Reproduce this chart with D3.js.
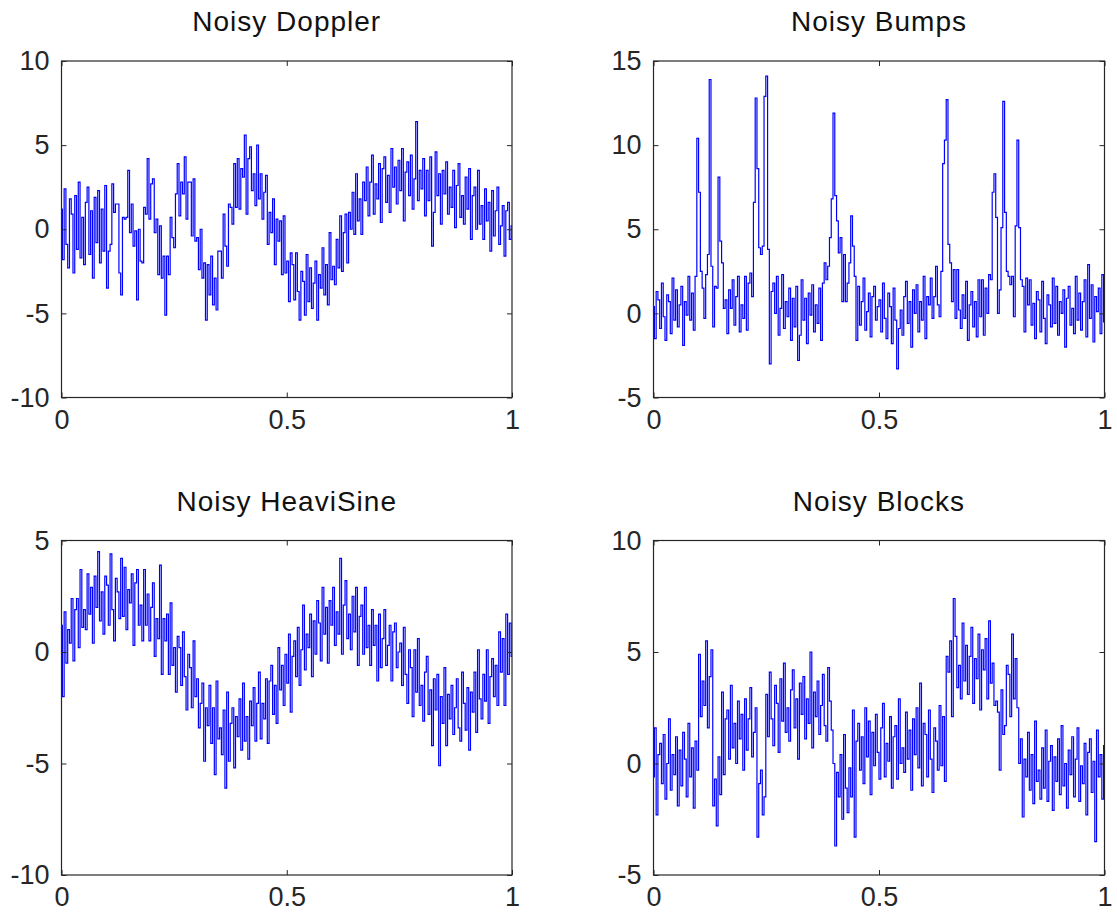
<!DOCTYPE html>
<html>
<head>
<meta charset="utf-8">
<script src="https://cdn.jsdelivr.net/npm/d3@7"></script>
<style>
  html, body { margin: 0; padding: 0; background: #ffffff; }
  svg { display: block; }
</style>
</head>
<body>
<svg id="chart" width="1117" height="917"></svg>
<script>
// Panel titles and shared x ticks
const titles = ["Noisy Doppler", "Noisy Bumps", "Noisy HeaviSine", "Noisy Blocks"];
const xTicks = [0, 0.5, 1];

// Y tick values for each panel
const dopplerTicks = [-10, -5, 0, 5, 10];
const bumpsTicks = [-5, 0, 5, 10, 15];
const heavisineTicks = [-10, -5, 0, 5];
const blocksTicks = [-5, 0, 5, 10];

// Sampled noisy signals (256 equally spaced samples on [0, 1])
const doppler = [
  1.2, -1.8, 2.4, -0.9, -2.3, 1.8, 0.9, -2.6, 2.0, -1.2, 2.8, -1.7, 0.7, -2.1, 1.6, 2.5,
  -1.5, 1.1, -2.9, 1.9, -0.8, 2.3, -2.0, 1.2, -1.3, 2.6, -3.5, -1.3, -0.9, 2.7, 1.0, 1.5,
  1.5, -2.6, -3.9, 0.7, 0.6, 0.7, 3.5, -0.2, 1.5, -1.0, -0.1, -4.2, 0.0, -1.9, -2.0, 1.3,
  0.9, 4.2, 0.6, 2.7, 3.0, -0.2, 0.6, -2.7, 0.2, -2.9, -1.6, -5.1, -1.6, -2.7, 0.7, -0.5,
  -1.1, 2.1, 3.9, 0.8, 2.8, 2.1, 4.3, 0.6, 2.8, 2.8, -0.4, 3.0, -0.7, -0.5, -2.4, 0.0,
  -2.9, -2.0, -5.4, -2.1, -3.9, -1.6, -4.5, -2.9, -4.8, -1.3, -1.3, -2.9, 0.9, -1.0, -2.2, 1.5,
  1.3, 0.3, 3.9, 1.3, 4.2, 1.2, 3.6, 3.1, 5.6, 0.9, 4.2, 4.9, 2.3, 3.3, 1.4, 5.0,
  1.8, 3.3, 0.6, 2.2, 3.2, -0.9, 1.0, -0.2, 1.8, -2.1, 0.6, -0.7, 0.5, -2.7, 0.8, -2.6,
  -1.9, -4.3, -1.4, -2.1, -4.2, -1.4, -3.7, -5.4, -2.5, -3.1, -5.1, -1.5, -4.3, -2.3, -4.7, -3.2,
  -1.9, -5.4, -2.7, -3.5, -1.1, -3.9, -2.1, -4.5, -0.2, -3.0, -2.2, -3.3, -0.6, -2.3, 0.8, -2.5,
  -0.2, 0.9, -2.0, 1.0, 0.0, 2.2, -0.3, 3.3, 0.5, 1.8, -0.3, 2.8, 1.7, 3.7, 0.8, 2.8,
  4.4, 0.9, 2.7, 1.8, 3.9, 0.4, 3.6, 4.3, 1.6, 3.2, 1.0, 4.8, 2.5, 3.7, 1.5, 4.1,
  2.3, 4.8, 0.5, 3.4, 4.0, 2.0, 4.4, 1.2, 3.0, 6.4, 1.7, 3.5, 2.4, 4.2, 0.8, 3.5,
  1.7, 4.3, -1.0, 1.0, 4.6, 2.0, 3.3, 0.3, 3.5, 2.1, 4.0, 0.9, 2.5, 1.3, 3.5, 0.1,
  2.6, 3.9, 0.7, 2.0, 0.3, 3.1, 1.2, 3.6, -0.6, 2.0, 2.5, 0.0, 3.5, 0.3, 1.4, -0.6,
  2.4, 0.5, 1.6, -1.3, 2.3, -0.4, 1.1, 2.5, -0.9, 0.2, 1.4, -1.6, 1.1, 1.6, -0.6, 0.2
];

const bumps = [
  0.4, -1.5, 1.3, 0.8, -0.9, 1.8, -0.2, -1.6, 1.1, 0.7, -1.2, 2.1, -0.4, 1.4, -0.8, 0.5,
  1.6, -1.9, 0.7, -0.1, 2.2, -0.4, 1.2, -1.0, 2.2, 10.4, 7.2, 2.5, 1.5, -0.3, 2.3, 3.5,
  13.9, 2.8, -0.8, 1.6, 1.5, 8.1, 4.3, 3.0, 0.3, 0.8, -1.2, 1.4, 0.3, 2.0, -0.7, 1.0,
  2.2, -1.1, 0.5, -0.3, 2.2, -1.0, 1.8, 2.4, 1.0, 6.6, 12.8, 8.6, 3.9, 3.5, 4.0, 12.9,
  14.1, 3.8, -3.0, 1.3, 1.8, 0.0, 2.2, -1.3, 0.3, 2.3, -0.9, 0.7, -0.2, 1.5, -1.6, 0.9,
  -0.8, 1.6, -2.8, -1.3, 2.0, -0.4, 0.9, -1.8, 1.2, -0.1, 1.7, -1.1, 0.5, -0.6, 1.5, -1.6,
  1.8, 3.0, 2.0, 2.8, 4.5, 6.8, 11.9, 7.0, 5.5, 3.6, 4.5, 0.7, 3.5, 0.7, 1.8, 3.0,
  5.8, 4.0, 2.2, -1.6, 1.6, -0.7, 0.7, 2.1, -1.0, 0.1, 1.2, -1.4, 1.0, 1.6, -0.4, 0.4,
  0.8, -1.1, 1.8, -0.3, -1.5, 1.2, 0.4, -1.8, 1.5, -0.4, -3.3, -0.9, 0.2, -1.3, 1.0, 1.9,
  -0.6, 0.7, -2.0, 1.4, 0.0, 1.7, -1.1, 0.7, -0.4, 2.2, -1.5, 1.0, 0.5, 2.1, -0.3, 1.0,
  2.8, 0.5, -0.2, 2.5, 8.9, 10.3, 12.7, 4.1, 3.0, 0.7, 2.6, -0.3, 2.6, 0.2, -0.9, 1.1,
  -0.3, 1.9, -1.6, 0.5, 1.3, -0.8, 0.7, -1.4, 2.0, -0.2, 2.0, -1.3, 1.5, 0.0, 2.3, 2.0,
  7.2, 8.3, 5.7, 0.0, 1.4, 5.1, 12.6, 6.0, 2.5, 2.2, 1.7, 2.2, -0.2, 5.2, 10.3, 5.1,
  2.0, 1.6, -1.1, 2.1, 0.5, 2.0, -0.7, 0.6, -1.5, 1.3, 0.8, -1.1, 1.9, -0.3, -1.8, 1.1,
  0.5, -0.8, 2.1, -0.6, 1.6, -1.3, 0.7, 0.0, 1.4, -2.0, 0.9, 1.6, -0.7, 0.3, -1.2, 2.2,
  -0.4, 1.2, -1.0, 0.7, 2.0, -1.4, 2.9, -0.3, 1.7, -1.7, 1.0, 0.1, 1.5, -1.2, 2.3, -0.5
];

const heavisine = [
  1.2, -2.0, 1.8, -0.5, 1.0, 0.4, 2.4, -0.4, 1.9, 2.4, 0.2, 3.7, 1.1, 1.9, 1.0, 3.5,
  1.7, 2.9, 0.4, 3.4, 2.0, 4.5, 1.4, 2.7, 0.8, 3.4, 3.0, 1.2, 4.4, 1.9, 0.5, 3.3,
  2.7, 1.5, 4.2, 1.6, 3.8, 1.0, 2.8, 2.2, 3.5, 0.3, 3.1, 3.7, 1.2, 2.1, 0.5, 3.7,
  1.2, 2.6, 0.5, 2.0, 3.1, -0.2, 1.5, 0.6, 3.9, -1.0, 1.5, 0.5, 1.7, -1.0, 2.2, -0.6,
  0.2, -1.8, 0.7, 0.2, -1.5, 0.9, -1.1, -2.6, -0.1, -0.7, -2.5, 0.5, -2.0, -1.2, -3.4, -2.3,
  -1.4, -4.9, -2.5, -3.3, -1.5, -4.1, -2.5, -5.5, -1.3, -3.9, -3.4, -4.6, -2.6, -6.1, -1.8, -4.9,
  -3.2, -2.5, -5.2, -2.9, -3.8, -2.1, -4.4, -1.4, -4.0, -2.9, -4.8, -2.2, -3.3, -1.6, -4.0, -2.3,
  -0.9, -3.9, -2.3, -3.0, -1.2, -4.1, -1.3, -0.6, -2.8, -1.5, -3.2, 0.2, -1.7, -0.6, -2.4, -0.1,
  -1.4, 0.8, -2.7, -0.2, 0.5, -1.1, 1.1, -1.5, 0.1, 2.1, -0.8, 0.8, 0.2, 1.7, -1.1, 1.4,
  -0.1, 2.3, 1.3, -0.4, 2.9, 0.8, 2.0, -0.5, 2.3, 1.2, 2.9, 0.3, 1.8, 0.8, 4.2, -0.1,
  2.1, 3.2, 0.6, 1.7, 0.1, 2.5, 0.9, 2.9, -0.6, 1.6, 2.1, -0.1, 2.9, 0.2, 1.2, -0.6,
  1.9, 0.3, 1.2, -1.3, 1.7, -0.7, 0.6, 1.9, -0.6, 0.3, 1.2, -1.3, 0.9, 1.3, -0.7, 0.0,
  0.4, -1.5, 1.1, -1.0, -2.3, 0.1, -0.7, -2.9, 0.1, -1.8, 0.6, -2.4, -1.5, -3.1, -0.9, -0.2,
  -2.8, -1.7, -4.2, -1.2, -2.6, -1.0, -5.1, -2.0, -3.2, -0.7, -4.2, -1.9, -3.0, -1.5, -3.7, -2.5,
  -1.2, -3.4, -4.0, -0.9, -2.3, -3.5, -1.6, -4.4, -1.8, -2.7, -0.9, -3.6, 0.1, -2.1, -3.0, -1.0,
  -2.2, 0.1, -3.2, -1.1, -0.3, -2.0, -0.6, -2.4, 0.9, -0.9, 0.6, -2.4, 1.7, -1.0, 1.3, -0.2
];

const blocks = [
  -0.6, 1.6, -2.3, 0.4, 0.9, -0.9, 1.3, -1.6, 0.0, 2.0, -1.2, 0.4, -0.5, 1.2, -1.9, 0.6,
  -1.0, 1.4, 0.2, -1.5, 1.8, -0.6, 0.7, -2.0, 1.0, -0.3, 4.9, 2.1, 3.7, 2.6, 5.5, 1.6,
  3.9, 5.1, -1.9, -0.7, -2.8, 0.3, -1.4, 3.2, -0.5, 2.0, 2.4, 0.2, 3.5, 0.7, 1.8, 0.0,
  2.8, 1.1, 2.2, -0.3, 2.9, 0.6, 2.0, 3.4, 0.3, 1.4, 2.5, -3.3, -0.9, -0.3, -2.3, -1.5,
  3.1, 1.2, 4.1, 2.0, 0.8, 3.5, 2.7, 0.5, 3.8, 1.9, 4.5, 1.4, 2.5, 1.0, 3.3, 4.2,
  1.6, 2.9, 0.2, 3.6, 2.2, 3.9, 1.1, 2.9, 1.8, 5.0, 0.7, 3.2, 2.1, 3.7, 1.3, 2.6,
  4.0, 1.7, 1.0, 4.3, 2.8, 1.5, 0.0, -3.7, -0.4, -1.5, 0.4, -2.5, 1.3, -1.1, -2.2, -0.2,
  -1.5, 2.4, -3.3, 1.0, 1.8, -0.3, 1.2, -0.9, 2.5, 0.3, 1.9, -1.4, 1.4, -0.1, 2.2, 0.5,
  -0.7, 1.6, 2.7, -0.6, 0.9, 0.1, 2.1, -1.1, 1.2, 1.7, -0.7, 2.9, 0.0, 0.7, -0.4, 2.3,
  0.2, 1.5, -1.2, 2.0, 0.4, 2.5, -0.2, 3.6, -1.0, 1.8, 1.3, -0.6, 2.4, 0.2, -1.3, 1.6,
  1.0, -0.3, 2.6, -0.1, 2.1, -0.8, 4.8, 4.1, 5.5, 2.1, 7.4, 5.7, 3.4, 4.4, 2.9, 6.3,
  3.7, 5.3, 3.1, 4.8, 6.1, 2.7, 4.7, 3.8, 5.8, 2.4, 5.1, 4.2, 5.6, 2.9, 6.4, 3.6,
  4.5, 2.6, 2.8, 2.3, -0.3, 3.3, 1.3, 1.7, 4.4, 4.0, 2.1, 5.8, 2.9, 4.7, 2.5, 0.0,
  1.1, -2.4, 0.2, -0.6, 1.4, -1.2, 0.4, -1.8, 1.9, -0.8, -0.3, -1.6, 0.7, -1.1, 1.5, -1.7,
  0.1, 0.8, -2.1, 0.3, -0.8, 1.1, -1.4, 1.7, -1.0, 0.0, -2.0, 0.6, -0.5, 1.2, -1.5, 0.2,
  1.6, -1.7, -0.1, -0.9, 0.9, -2.3, 0.5, 1.1, -1.3, 0.1, -3.5, 1.5, -0.6, 0.4, -1.6, 0.8
];

// Layout of the 2x2 grid of axes: [left, top, right, bottom] in pixels
const panels = [
  { title: titles[0], values: doppler,   yDomain: [-10, 10], yTicks: dopplerTicks,   box: [61.5, 61, 512, 397.5] },
  { title: titles[1], values: bumps,     yDomain: [-5, 15],  yTicks: bumpsTicks,     box: [653.5, 61, 1104.5, 397.5] },
  { title: titles[2], values: heavisine, yDomain: [-10, 5],  yTicks: heavisineTicks, box: [61.5, 540.5, 512, 875] },
  { title: titles[3], values: blocks,    yDomain: [-5, 10],  yTicks: blocksTicks,    box: [653.5, 540.5, 1104.5, 875] }
];

const fontFamily = "'Liberation Sans', Arial, Helvetica, sans-serif";
const axisColor = "#262626";
const fmt = d => String(d);
const svg = d3.select("#chart");

panels.forEach((p, k) => {
  const [x0, y0, x1, y1] = p.box;
  const x = d3.scaleLinear().domain([0, 1]).range([x0, x1]);
  const y = d3.scaleLinear().domain(p.yDomain).range([y1, y0]);
  const g = svg.append("g");

  g.append("clipPath").attr("id", "clip" + k)
    .append("rect")
    .attr("x", x0).attr("y", y0)
    .attr("width", x1 - x0).attr("height", y1 - y0);

  const n = p.values.length;
  // stair-step trace: each sample is held until the next one
  const line = d3.line()
    .x((d, i) => x(i / (n - 1)))
    .y(d => y(d))
    .curve(d3.curveStep);

  g.append("path")
    .datum(p.values)
    .attr("d", line)
    .attr("fill", "none")
    .attr("stroke", "#0000ff")
    .attr("stroke-width", 1.2)
    .attr("clip-path", `url(#clip${k})`);

  const styleAxis = sel => {
    sel.attr("font-family", fontFamily)
       .attr("font-size", 27)
       .style("color", axisColor);
    sel.select(".domain").remove();
    sel.selectAll(".tick line").attr("stroke-width", 1);
  };

  g.append("g")
    .attr("transform", `translate(0,${y1})`)
    .call(d3.axisBottom(x).tickValues(xTicks).tickSizeInner(-5).tickSizeOuter(0).tickPadding(12).tickFormat(fmt))
    .call(styleAxis);

  g.append("g")
    .attr("transform", `translate(0,${y0})`)
    .call(d3.axisTop(x).tickValues(xTicks).tickSizeInner(-5).tickSizeOuter(0).tickFormat(""))
    .call(styleAxis);

  g.append("g")
    .attr("transform", `translate(${x0},0)`)
    .call(d3.axisLeft(y).tickValues(p.yTicks).tickSizeInner(-5).tickSizeOuter(0).tickPadding(12).tickFormat(fmt))
    .call(styleAxis);

  g.append("g")
    .attr("transform", `translate(${x1},0)`)
    .call(d3.axisRight(y).tickValues(p.yTicks).tickSizeInner(-5).tickSizeOuter(0).tickFormat(""))
    .call(styleAxis);

  g.append("rect")
    .attr("x", x0).attr("y", y0)
    .attr("width", x1 - x0).attr("height", y1 - y0)
    .attr("fill", "none")
    .attr("stroke", axisColor)
    .attr("stroke-width", 1.2);

  g.append("text")
    .attr("x", (x0 + x1) / 2)
    .attr("y", y0 - 30)
    .attr("text-anchor", "middle")
    .attr("font-family", fontFamily)
    .attr("font-size", 28)
    .attr("letter-spacing", 1)
    .attr("fill", "#111111")
    .text(p.title);
});
</script>
</body>
</html>
